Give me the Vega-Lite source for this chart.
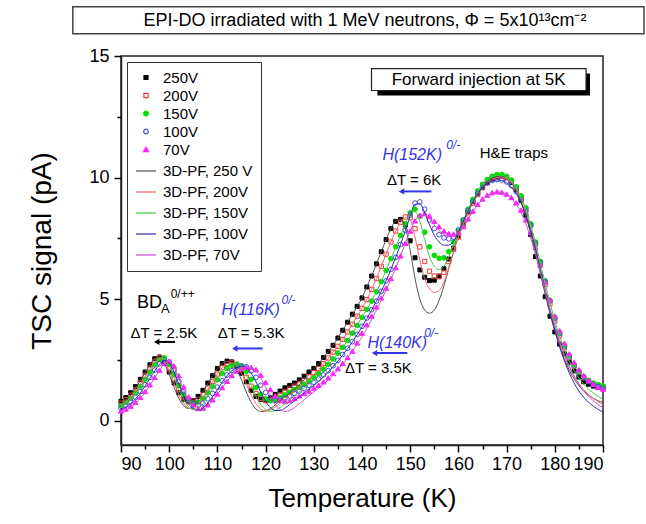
{
"$schema": "https://vega.github.io/schema/vega-lite/v6.json",
"width": 482, "height": 389, "autosize": "none",
"padding": {"left": 121, "top": 56, "right": 43, "bottom": 79},
"datasets": {
"box": [{"T": 80, "T2": 198.5, "v": 15.92, "v2": 17.03}],
"ttl": [{"T": 140.6, "v": 16.45, "t": "EPI-DO irradiated with 1 MeV neutrons, Φ = 5x10¹³cm⁻²"}],
"shadow": [{"T": 143.2, "T2": 187.3, "v": 13.38, "v2": 14.28}],
"fbox": [{"T": 141.97, "T2": 186.48, "v": 13.58, "v2": 14.48}],
"ftxt": [{"T": 164.2, "v": 14.03, "t": "Forward injection at 5K"}],
"bd": [{"T": 93.3, "v": 4.83, "t": "BD"}],
"bdsub": [{"T": 98.3, "v": 4.6, "t": "A"}],
"bdsup": [{"T": 100.3, "v": 5.22, "t": "0/++"}],
"dt": [{"T": 98.9, "v": 3.62, "t": "ΔT = 2.5K"}, {"T": 117.0, "v": 3.62, "t": "ΔT = 5.3K"}, {"T": 143.4, "v": 2.16, "t": "ΔT = 3.5K"}, {"T": 150.8, "v": 9.89, "t": "ΔT = 6K"}, {"T": 171.5, "v": 10.99, "t": "H&E traps"}],
"hname": [{"T": 110.85, "v": 4.55, "t": "H(116K)"}, {"T": 141.14, "v": 3.19, "t": "H(140K)"}, {"T": 144.24, "v": 10.91, "t": "H(152K)"}],
"hsup": [{"T": 123.3, "v": 4.96, "t": "0/-"}, {"T": 152.9, "v": 3.6, "t": "0/-"}, {"T": 157.5, "v": 11.32, "t": "0/-"}],
"arrk": [{"T": 101.2, "T2": 97.4, "v": 3.24}],
"arrkh": [{"T": 97.4, "v": 3.24}],
"arrb": [{"T": 119.4, "T2": 113.6, "v": 2.97}, {"T": 149.4, "T2": 142.6, "v": 2.78}, {"T": 154.4, "T2": 148.2, "v": 9.43}],
"arrbh": [{"T": 113.6, "v": 2.97}, {"T": 142.6, "v": 2.78}, {"T": 148.2, "v": 9.43}],
"meas": [
{"s":"250V","T":90,"v":0.8},{"s":"250V","T":91,"v":0.95},{"s":"250V","T":92,"v":1.15},{"s":"250V","T":93,"v":1.4},{"s":"250V","T":94,"v":1.7},{"s":"250V","T":95,"v":2},{"s":"250V","T":96,"v":2.3},{"s":"250V","T":97,"v":2.55},{"s":"250V","T":98,"v":2.62},{"s":"250V","T":99,"v":2.4},
{"s":"250V","T":100,"v":2},{"s":"250V","T":101,"v":1.55},{"s":"250V","T":102,"v":1.15},{"s":"250V","T":103,"v":0.88},{"s":"250V","T":104,"v":0.78},{"s":"250V","T":105,"v":0.82},{"s":"250V","T":106,"v":1},{"s":"250V","T":107,"v":1.25},{"s":"250V","T":108,"v":1.55},{"s":"250V","T":109,"v":1.85},
{"s":"250V","T":110,"v":2.15},{"s":"250V","T":111,"v":2.35},{"s":"250V","T":112,"v":2.45},{"s":"250V","T":113,"v":2.42},{"s":"250V","T":114,"v":2.25},{"s":"250V","T":115,"v":1.95},{"s":"250V","T":116,"v":1.6},{"s":"250V","T":117,"v":1.25},{"s":"250V","T":118,"v":1},{"s":"250V","T":119,"v":0.88},
{"s":"250V","T":120,"v":0.85},{"s":"250V","T":121,"v":0.95},{"s":"250V","T":122,"v":1.08},{"s":"250V","T":123,"v":1.22},{"s":"250V","T":124,"v":1.35},{"s":"250V","T":125,"v":1.45},{"s":"250V","T":126,"v":1.55},{"s":"250V","T":127,"v":1.68},{"s":"250V","T":128,"v":1.83},{"s":"250V","T":129,"v":2},
{"s":"250V","T":130,"v":2.15},{"s":"250V","T":131,"v":2.35},{"s":"250V","T":132,"v":2.6},{"s":"250V","T":133,"v":2.85},{"s":"250V","T":134,"v":3.1},{"s":"250V","T":135,"v":3.4},{"s":"250V","T":136,"v":3.72},{"s":"250V","T":137,"v":4.05},{"s":"250V","T":138,"v":4.38},{"s":"250V","T":139,"v":4.7},
{"s":"250V","T":140,"v":5.05},{"s":"250V","T":141,"v":5.5},{"s":"250V","T":142,"v":5.95},{"s":"250V","T":143,"v":6.45},{"s":"250V","T":144,"v":6.95},{"s":"250V","T":145,"v":7.45},{"s":"250V","T":146,"v":7.9},{"s":"250V","T":147,"v":8.2},{"s":"250V","T":148,"v":8.28},{"s":"250V","T":149,"v":8.05},
{"s":"250V","T":150,"v":7.4},{"s":"250V","T":151,"v":6.7},{"s":"250V","T":152,"v":6.2},{"s":"250V","T":153,"v":5.9},{"s":"250V","T":154,"v":5.76},{"s":"250V","T":155,"v":5.78},{"s":"250V","T":156,"v":5.95},{"s":"250V","T":157,"v":6.25},{"s":"250V","T":158,"v":6.65},{"s":"250V","T":159,"v":7.1},
{"s":"250V","T":160,"v":7.6},{"s":"250V","T":161,"v":8.1},{"s":"250V","T":162,"v":8.6},{"s":"250V","T":163,"v":9},{"s":"250V","T":164,"v":9.35},{"s":"250V","T":165,"v":9.6},{"s":"250V","T":166,"v":9.8},{"s":"250V","T":167,"v":9.95},{"s":"250V","T":168,"v":10.05},{"s":"250V","T":169,"v":10.08},
{"s":"250V","T":170,"v":10},{"s":"250V","T":171,"v":9.8},{"s":"250V","T":172,"v":9.5},{"s":"250V","T":173,"v":9.05},{"s":"250V","T":174,"v":8.45},{"s":"250V","T":175,"v":7.65},{"s":"250V","T":176,"v":6.75},{"s":"250V","T":177,"v":5.95},{"s":"250V","T":178,"v":5.1},{"s":"250V","T":179,"v":4.3},
{"s":"250V","T":180,"v":3.65},{"s":"250V","T":181,"v":3.15},{"s":"250V","T":182,"v":2.75},{"s":"250V","T":183,"v":2.4},{"s":"250V","T":184,"v":2.05},{"s":"250V","T":185,"v":1.8},{"s":"250V","T":186,"v":1.6},{"s":"250V","T":187,"v":1.5},{"s":"250V","T":188,"v":1.42},{"s":"250V","T":189,"v":1.37},{"s":"250V","T":190,"v":1.33},
{"s":"200V","T":90,"v":0.72},{"s":"200V","T":91,"v":0.86},{"s":"200V","T":92,"v":1.05},{"s":"200V","T":93,"v":1.28},{"s":"200V","T":94,"v":1.56},{"s":"200V","T":95,"v":1.86},{"s":"200V","T":96,"v":2.16},{"s":"200V","T":97,"v":2.42},{"s":"200V","T":98,"v":2.6},{"s":"200V","T":99,"v":2.5},
{"s":"200V","T":100,"v":2.15},{"s":"200V","T":101,"v":1.72},{"s":"200V","T":102,"v":1.3},{"s":"200V","T":103,"v":0.98},{"s":"200V","T":104,"v":0.8},{"s":"200V","T":105,"v":0.76},{"s":"200V","T":106,"v":0.88},{"s":"200V","T":107,"v":1.08},{"s":"200V","T":108,"v":1.34},{"s":"200V","T":109,"v":1.62},
{"s":"200V","T":110,"v":1.92},{"s":"200V","T":111,"v":2.18},{"s":"200V","T":112,"v":2.35},{"s":"200V","T":113,"v":2.4},{"s":"200V","T":114,"v":2.32},{"s":"200V","T":115,"v":2.1},{"s":"200V","T":116,"v":1.78},{"s":"200V","T":117,"v":1.42},{"s":"200V","T":118,"v":1.12},{"s":"200V","T":119,"v":0.92},
{"s":"200V","T":120,"v":0.82},{"s":"200V","T":121,"v":0.84},{"s":"200V","T":122,"v":0.94},{"s":"200V","T":123,"v":1.06},{"s":"200V","T":124,"v":1.18},{"s":"200V","T":125,"v":1.3},{"s":"200V","T":126,"v":1.42},{"s":"200V","T":127,"v":1.53},{"s":"200V","T":128,"v":1.66},{"s":"200V","T":129,"v":1.82},
{"s":"200V","T":130,"v":1.98},{"s":"200V","T":131,"v":2.14},{"s":"200V","T":132,"v":2.35},{"s":"200V","T":133,"v":2.58},{"s":"200V","T":134,"v":2.82},{"s":"200V","T":135,"v":3.06},{"s":"200V","T":136,"v":3.34},{"s":"200V","T":137,"v":3.65},{"s":"200V","T":138,"v":3.97},{"s":"200V","T":139,"v":4.3},
{"s":"200V","T":140,"v":4.62},{"s":"200V","T":141,"v":4.98},{"s":"200V","T":142,"v":5.4},{"s":"200V","T":143,"v":5.85},{"s":"200V","T":144,"v":6.35},{"s":"200V","T":145,"v":6.85},{"s":"200V","T":146,"v":7.35},{"s":"200V","T":147,"v":7.8},{"s":"200V","T":148,"v":8.15},{"s":"200V","T":149,"v":8.38},
{"s":"200V","T":150,"v":8.35},{"s":"200V","T":151,"v":7.9},{"s":"200V","T":152,"v":7.15},{"s":"200V","T":153,"v":6.55},{"s":"200V","T":154,"v":6.15},{"s":"200V","T":155,"v":5.95},{"s":"200V","T":156,"v":5.92},{"s":"200V","T":157,"v":6.1},{"s":"200V","T":158,"v":6.55},{"s":"200V","T":159,"v":7.05},
{"s":"200V","T":160,"v":7.55},{"s":"200V","T":161,"v":8.05},{"s":"200V","T":162,"v":8.55},{"s":"200V","T":163,"v":8.95},{"s":"200V","T":164,"v":9.3},{"s":"200V","T":165,"v":9.58},{"s":"200V","T":166,"v":9.78},{"s":"200V","T":167,"v":9.93},{"s":"200V","T":168,"v":10.02},{"s":"200V","T":169,"v":10.05},
{"s":"200V","T":170,"v":10},{"s":"200V","T":171,"v":9.85},{"s":"200V","T":172,"v":9.58},{"s":"200V","T":173,"v":9.2},{"s":"200V","T":174,"v":8.7},{"s":"200V","T":175,"v":8.05},{"s":"200V","T":176,"v":7.25},{"s":"200V","T":177,"v":6.4},{"s":"200V","T":178,"v":5.6},{"s":"200V","T":179,"v":4.8},
{"s":"200V","T":180,"v":4.1},{"s":"200V","T":181,"v":3.5},{"s":"200V","T":182,"v":3},{"s":"200V","T":183,"v":2.6},{"s":"200V","T":184,"v":2.25},{"s":"200V","T":185,"v":1.98},{"s":"200V","T":186,"v":1.76},{"s":"200V","T":187,"v":1.62},{"s":"200V","T":188,"v":1.52},{"s":"200V","T":189,"v":1.45},{"s":"200V","T":190,"v":1.4},
{"s":"150V","T":90,"v":0.62},{"s":"150V","T":91,"v":0.75},{"s":"150V","T":92,"v":0.92},{"s":"150V","T":93,"v":1.14},{"s":"150V","T":94,"v":1.4},{"s":"150V","T":95,"v":1.7},{"s":"150V","T":96,"v":2},{"s":"150V","T":97,"v":2.3},{"s":"150V","T":98,"v":2.52},{"s":"150V","T":99,"v":2.58},
{"s":"150V","T":100,"v":2.32},{"s":"150V","T":101,"v":1.9},{"s":"150V","T":102,"v":1.45},{"s":"150V","T":103,"v":1.08},{"s":"150V","T":104,"v":0.84},{"s":"150V","T":105,"v":0.72},{"s":"150V","T":106,"v":0.76},{"s":"150V","T":107,"v":0.92},{"s":"150V","T":108,"v":1.14},{"s":"150V","T":109,"v":1.4},
{"s":"150V","T":110,"v":1.68},{"s":"150V","T":111,"v":1.95},{"s":"150V","T":112,"v":2.15},{"s":"150V","T":113,"v":2.28},{"s":"150V","T":114,"v":2.32},{"s":"150V","T":115,"v":2.25},{"s":"150V","T":116,"v":2.02},{"s":"150V","T":117,"v":1.7},{"s":"150V","T":118,"v":1.36},{"s":"150V","T":119,"v":1.08},
{"s":"150V","T":120,"v":0.9},{"s":"150V","T":121,"v":0.82},{"s":"150V","T":122,"v":0.85},{"s":"150V","T":123,"v":0.95},{"s":"150V","T":124,"v":1.06},{"s":"150V","T":125,"v":1.17},{"s":"150V","T":126,"v":1.28},{"s":"150V","T":127,"v":1.38},{"s":"150V","T":128,"v":1.5},{"s":"150V","T":129,"v":1.63},
{"s":"150V","T":130,"v":1.78},{"s":"150V","T":131,"v":1.94},{"s":"150V","T":132,"v":2.12},{"s":"150V","T":133,"v":2.32},{"s":"150V","T":134,"v":2.54},{"s":"150V","T":135,"v":2.78},{"s":"150V","T":136,"v":3.02},{"s":"150V","T":137,"v":3.3},{"s":"150V","T":138,"v":3.6},{"s":"150V","T":139,"v":3.92},
{"s":"150V","T":140,"v":4.25},{"s":"150V","T":141,"v":4.58},{"s":"150V","T":142,"v":4.92},{"s":"150V","T":143,"v":5.3},{"s":"150V","T":144,"v":5.72},{"s":"150V","T":145,"v":6.18},{"s":"150V","T":146,"v":6.66},{"s":"150V","T":147,"v":7.15},{"s":"150V","T":148,"v":7.62},{"s":"150V","T":149,"v":8.1},
{"s":"150V","T":150,"v":8.55},{"s":"150V","T":151,"v":8.7},{"s":"150V","T":152,"v":8.4},{"s":"150V","T":153,"v":7.75},{"s":"150V","T":154,"v":7.15},{"s":"150V","T":155,"v":6.8},{"s":"150V","T":156,"v":6.68},{"s":"150V","T":157,"v":6.7},{"s":"150V","T":158,"v":6.95},{"s":"150V","T":159,"v":7.35},
{"s":"150V","T":160,"v":7.8},{"s":"150V","T":161,"v":8.25},{"s":"150V","T":162,"v":8.7},{"s":"150V","T":163,"v":9.1},{"s":"150V","T":164,"v":9.45},{"s":"150V","T":165,"v":9.72},{"s":"150V","T":166,"v":9.92},{"s":"150V","T":167,"v":10.05},{"s":"150V","T":168,"v":10.12},{"s":"150V","T":169,"v":10.12},
{"s":"150V","T":170,"v":10.05},{"s":"150V","T":171,"v":9.9},{"s":"150V","T":172,"v":9.62},{"s":"150V","T":173,"v":9.25},{"s":"150V","T":174,"v":8.75},{"s":"150V","T":175,"v":8.1},{"s":"150V","T":176,"v":7.35},{"s":"150V","T":177,"v":6.55},{"s":"150V","T":178,"v":5.75},{"s":"150V","T":179,"v":4.95},
{"s":"150V","T":180,"v":4.25},{"s":"150V","T":181,"v":3.62},{"s":"150V","T":182,"v":3.1},{"s":"150V","T":183,"v":2.68},{"s":"150V","T":184,"v":2.32},{"s":"150V","T":185,"v":2.04},{"s":"150V","T":186,"v":1.82},{"s":"150V","T":187,"v":1.66},{"s":"150V","T":188,"v":1.55},{"s":"150V","T":189,"v":1.48},{"s":"150V","T":190,"v":1.43},
{"s":"100V","T":90,"v":0.52},{"s":"100V","T":91,"v":0.63},{"s":"100V","T":92,"v":0.78},{"s":"100V","T":93,"v":0.96},{"s":"100V","T":94,"v":1.2},{"s":"100V","T":95,"v":1.48},{"s":"100V","T":96,"v":1.78},{"s":"100V","T":97,"v":2.08},{"s":"100V","T":98,"v":2.34},{"s":"100V","T":99,"v":2.5},
{"s":"100V","T":100,"v":2.42},{"s":"100V","T":101,"v":2.08},{"s":"100V","T":102,"v":1.62},{"s":"100V","T":103,"v":1.2},{"s":"100V","T":104,"v":0.9},{"s":"100V","T":105,"v":0.7},{"s":"100V","T":106,"v":0.64},{"s":"100V","T":107,"v":0.72},{"s":"100V","T":108,"v":0.9},{"s":"100V","T":109,"v":1.12},
{"s":"100V","T":110,"v":1.38},{"s":"100V","T":111,"v":1.64},{"s":"100V","T":112,"v":1.88},{"s":"100V","T":113,"v":2.06},{"s":"100V","T":114,"v":2.2},{"s":"100V","T":115,"v":2.25},{"s":"100V","T":116,"v":2.22},{"s":"100V","T":117,"v":2.05},{"s":"100V","T":118,"v":1.78},{"s":"100V","T":119,"v":1.46},
{"s":"100V","T":120,"v":1.16},{"s":"100V","T":121,"v":0.95},{"s":"100V","T":122,"v":0.84},{"s":"100V","T":123,"v":0.84},{"s":"100V","T":124,"v":0.92},{"s":"100V","T":125,"v":1.02},{"s":"100V","T":126,"v":1.12},{"s":"100V","T":127,"v":1.22},{"s":"100V","T":128,"v":1.33},{"s":"100V","T":129,"v":1.45},
{"s":"100V","T":130,"v":1.58},{"s":"100V","T":131,"v":1.72},{"s":"100V","T":132,"v":1.88},{"s":"100V","T":133,"v":2.06},{"s":"100V","T":134,"v":2.26},{"s":"100V","T":135,"v":2.48},{"s":"100V","T":136,"v":2.72},{"s":"100V","T":137,"v":2.98},{"s":"100V","T":138,"v":3.25},{"s":"100V","T":139,"v":3.55},
{"s":"100V","T":140,"v":3.88},{"s":"100V","T":141,"v":4.22},{"s":"100V","T":142,"v":4.56},{"s":"100V","T":143,"v":4.92},{"s":"100V","T":144,"v":5.32},{"s":"100V","T":145,"v":5.75},{"s":"100V","T":146,"v":6.22},{"s":"100V","T":147,"v":6.72},{"s":"100V","T":148,"v":7.25},{"s":"100V","T":149,"v":7.82},
{"s":"100V","T":150,"v":8.45},{"s":"100V","T":151,"v":8.95},{"s":"100V","T":152,"v":9},{"s":"100V","T":153,"v":8.7},{"s":"100V","T":154,"v":8.25},{"s":"100V","T":155,"v":7.9},{"s":"100V","T":156,"v":7.65},{"s":"100V","T":157,"v":7.52},{"s":"100V","T":158,"v":7.48},{"s":"100V","T":159,"v":7.55},
{"s":"100V","T":160,"v":7.85},{"s":"100V","T":161,"v":8.25},{"s":"100V","T":162,"v":8.65},{"s":"100V","T":163,"v":9.02},{"s":"100V","T":164,"v":9.35},{"s":"100V","T":165,"v":9.6},{"s":"100V","T":166,"v":9.78},{"s":"100V","T":167,"v":9.88},{"s":"100V","T":168,"v":9.92},{"s":"100V","T":169,"v":9.9},
{"s":"100V","T":170,"v":9.82},{"s":"100V","T":171,"v":9.66},{"s":"100V","T":172,"v":9.42},{"s":"100V","T":173,"v":9.08},{"s":"100V","T":174,"v":8.62},{"s":"100V","T":175,"v":8.02},{"s":"100V","T":176,"v":7.3},{"s":"100V","T":177,"v":6.52},{"s":"100V","T":178,"v":5.72},{"s":"100V","T":179,"v":4.92},
{"s":"100V","T":180,"v":4.2},{"s":"100V","T":181,"v":3.58},{"s":"100V","T":182,"v":3.05},{"s":"100V","T":183,"v":2.62},{"s":"100V","T":184,"v":2.26},{"s":"100V","T":185,"v":1.98},{"s":"100V","T":186,"v":1.76},{"s":"100V","T":187,"v":1.6},{"s":"100V","T":188,"v":1.48},{"s":"100V","T":189,"v":1.4},{"s":"100V","T":190,"v":1.34},
{"s":"70V","T":90,"v":0.4},{"s":"70V","T":91,"v":0.48},{"s":"70V","T":92,"v":0.6},{"s":"70V","T":93,"v":0.76},{"s":"70V","T":94,"v":0.96},{"s":"70V","T":95,"v":1.2},{"s":"70V","T":96,"v":1.48},{"s":"70V","T":97,"v":1.78},{"s":"70V","T":98,"v":2.08},{"s":"70V","T":99,"v":2.35},
{"s":"70V","T":100,"v":2.45},{"s":"70V","T":101,"v":2.25},{"s":"70V","T":102,"v":1.85},{"s":"70V","T":103,"v":1.4},{"s":"70V","T":104,"v":0.98},{"s":"70V","T":105,"v":0.66},{"s":"70V","T":106,"v":0.5},{"s":"70V","T":107,"v":0.52},{"s":"70V","T":108,"v":0.66},{"s":"70V","T":109,"v":0.86},
{"s":"70V","T":110,"v":1.1},{"s":"70V","T":111,"v":1.36},{"s":"70V","T":112,"v":1.62},{"s":"70V","T":113,"v":1.86},{"s":"70V","T":114,"v":2.04},{"s":"70V","T":115,"v":2.16},{"s":"70V","T":116,"v":2.2},{"s":"70V","T":117,"v":2.2},{"s":"70V","T":118,"v":2.1},{"s":"70V","T":119,"v":1.88},
{"s":"70V","T":120,"v":1.58},{"s":"70V","T":121,"v":1.28},{"s":"70V","T":122,"v":1.02},{"s":"70V","T":123,"v":0.86},{"s":"70V","T":124,"v":0.8},{"s":"70V","T":125,"v":0.84},{"s":"70V","T":126,"v":0.92},{"s":"70V","T":127,"v":1.02},{"s":"70V","T":128,"v":1.12},{"s":"70V","T":129,"v":1.22},
{"s":"70V","T":130,"v":1.34},{"s":"70V","T":131,"v":1.46},{"s":"70V","T":132,"v":1.6},{"s":"70V","T":133,"v":1.76},{"s":"70V","T":134,"v":1.94},{"s":"70V","T":135,"v":2.14},{"s":"70V","T":136,"v":2.36},{"s":"70V","T":137,"v":2.6},{"s":"70V","T":138,"v":2.86},{"s":"70V","T":139,"v":3.2},
{"s":"70V","T":140,"v":3.6},{"s":"70V","T":141,"v":3.95},{"s":"70V","T":142,"v":4.3},{"s":"70V","T":143,"v":4.68},{"s":"70V","T":144,"v":5.05},{"s":"70V","T":145,"v":5.45},{"s":"70V","T":146,"v":5.85},{"s":"70V","T":147,"v":6.3},{"s":"70V","T":148,"v":6.78},{"s":"70V","T":149,"v":7.3},
{"s":"70V","T":150,"v":7.8},{"s":"70V","T":151,"v":8.22},{"s":"70V","T":152,"v":8.45},{"s":"70V","T":153,"v":8.52},{"s":"70V","T":154,"v":8.42},{"s":"70V","T":155,"v":8.2},{"s":"70V","T":156,"v":7.98},{"s":"70V","T":157,"v":7.8},{"s":"70V","T":158,"v":7.7},{"s":"70V","T":159,"v":7.68},
{"s":"70V","T":160,"v":7.75},{"s":"70V","T":161,"v":7.98},{"s":"70V","T":162,"v":8.3},{"s":"70V","T":163,"v":8.62},{"s":"70V","T":164,"v":8.9},{"s":"70V","T":165,"v":9.12},{"s":"70V","T":166,"v":9.28},{"s":"70V","T":167,"v":9.38},{"s":"70V","T":168,"v":9.42},{"s":"70V","T":169,"v":9.4},
{"s":"70V","T":170,"v":9.32},{"s":"70V","T":171,"v":9.18},{"s":"70V","T":172,"v":8.96},{"s":"70V","T":173,"v":8.66},{"s":"70V","T":174,"v":8.26},{"s":"70V","T":175,"v":7.75},{"s":"70V","T":176,"v":7.12},{"s":"70V","T":177,"v":6.42},{"s":"70V","T":178,"v":5.7},{"s":"70V","T":179,"v":4.98},
{"s":"70V","T":180,"v":4.3},{"s":"70V","T":181,"v":3.7},{"s":"70V","T":182,"v":3.18},{"s":"70V","T":183,"v":2.75},{"s":"70V","T":184,"v":2.4},{"s":"70V","T":185,"v":2.1},{"s":"70V","T":186,"v":1.86},{"s":"70V","T":187,"v":1.66},{"s":"70V","T":188,"v":1.5},{"s":"70V","T":189,"v":1.38},{"s":"70V","T":190,"v":1.3}
],
"sim": [
{"s":"3D-PF, 250 V","T":90,"v":0.7},{"s":"3D-PF, 250 V","T":91,"v":0.85},{"s":"3D-PF, 250 V","T":92,"v":1.05},{"s":"3D-PF, 250 V","T":93,"v":1.32},{"s":"3D-PF, 250 V","T":94,"v":1.65},{"s":"3D-PF, 250 V","T":95,"v":1.98},{"s":"3D-PF, 250 V","T":96,"v":2.3},{"s":"3D-PF, 250 V","T":97,"v":2.55},{"s":"3D-PF, 250 V","T":98,"v":2.6},{"s":"3D-PF, 250 V","T":99,"v":2.35},
{"s":"3D-PF, 250 V","T":100,"v":1.9},{"s":"3D-PF, 250 V","T":101,"v":1.38},{"s":"3D-PF, 250 V","T":102,"v":0.92},{"s":"3D-PF, 250 V","T":103,"v":0.62},{"s":"3D-PF, 250 V","T":104,"v":0.5},{"s":"3D-PF, 250 V","T":105,"v":0.58},{"s":"3D-PF, 250 V","T":106,"v":0.85},{"s":"3D-PF, 250 V","T":107,"v":1.18},{"s":"3D-PF, 250 V","T":108,"v":1.52},{"s":"3D-PF, 250 V","T":109,"v":1.85},
{"s":"3D-PF, 250 V","T":110,"v":2.15},{"s":"3D-PF, 250 V","T":111,"v":2.36},{"s":"3D-PF, 250 V","T":112,"v":2.44},{"s":"3D-PF, 250 V","T":113,"v":2.36},{"s":"3D-PF, 250 V","T":114,"v":2.1},{"s":"3D-PF, 250 V","T":115,"v":1.68},{"s":"3D-PF, 250 V","T":116,"v":1.18},{"s":"3D-PF, 250 V","T":117,"v":0.76},{"s":"3D-PF, 250 V","T":118,"v":0.48},{"s":"3D-PF, 250 V","T":119,"v":0.38},
{"s":"3D-PF, 250 V","T":120,"v":0.4},{"s":"3D-PF, 250 V","T":121,"v":0.5},{"s":"3D-PF, 250 V","T":122,"v":0.65},{"s":"3D-PF, 250 V","T":123,"v":0.82},{"s":"3D-PF, 250 V","T":124,"v":0.98},{"s":"3D-PF, 250 V","T":125,"v":1.14},{"s":"3D-PF, 250 V","T":126,"v":1.3},{"s":"3D-PF, 250 V","T":127,"v":1.48},{"s":"3D-PF, 250 V","T":128,"v":1.68},{"s":"3D-PF, 250 V","T":129,"v":1.9},
{"s":"3D-PF, 250 V","T":130,"v":2.12},{"s":"3D-PF, 250 V","T":131,"v":2.35},{"s":"3D-PF, 250 V","T":132,"v":2.6},{"s":"3D-PF, 250 V","T":133,"v":2.85},{"s":"3D-PF, 250 V","T":134,"v":3.1},{"s":"3D-PF, 250 V","T":135,"v":3.4},{"s":"3D-PF, 250 V","T":136,"v":3.72},{"s":"3D-PF, 250 V","T":137,"v":4.05},{"s":"3D-PF, 250 V","T":138,"v":4.38},{"s":"3D-PF, 250 V","T":139,"v":4.7},
{"s":"3D-PF, 250 V","T":140,"v":5.05},{"s":"3D-PF, 250 V","T":141,"v":5.5},{"s":"3D-PF, 250 V","T":142,"v":5.95},{"s":"3D-PF, 250 V","T":143,"v":6.45},{"s":"3D-PF, 250 V","T":144,"v":6.95},{"s":"3D-PF, 250 V","T":145,"v":7.45},{"s":"3D-PF, 250 V","T":146,"v":7.9},{"s":"3D-PF, 250 V","T":147,"v":8.22},{"s":"3D-PF, 250 V","T":148,"v":8.3},{"s":"3D-PF, 250 V","T":149,"v":7.95},
{"s":"3D-PF, 250 V","T":150,"v":7},{"s":"3D-PF, 250 V","T":151,"v":5.85},{"s":"3D-PF, 250 V","T":152,"v":5},{"s":"3D-PF, 250 V","T":153,"v":4.55},{"s":"3D-PF, 250 V","T":154,"v":4.42},{"s":"3D-PF, 250 V","T":155,"v":4.55},{"s":"3D-PF, 250 V","T":156,"v":4.95},{"s":"3D-PF, 250 V","T":157,"v":5.55},{"s":"3D-PF, 250 V","T":158,"v":6.25},{"s":"3D-PF, 250 V","T":159,"v":6.95},
{"s":"3D-PF, 250 V","T":160,"v":7.6},{"s":"3D-PF, 250 V","T":161,"v":8.15},{"s":"3D-PF, 250 V","T":162,"v":8.62},{"s":"3D-PF, 250 V","T":163,"v":9.02},{"s":"3D-PF, 250 V","T":164,"v":9.36},{"s":"3D-PF, 250 V","T":165,"v":9.62},{"s":"3D-PF, 250 V","T":166,"v":9.82},{"s":"3D-PF, 250 V","T":167,"v":9.96},{"s":"3D-PF, 250 V","T":168,"v":10.04},{"s":"3D-PF, 250 V","T":169,"v":10.05},
{"s":"3D-PF, 250 V","T":170,"v":9.96},{"s":"3D-PF, 250 V","T":171,"v":9.76},{"s":"3D-PF, 250 V","T":172,"v":9.45},{"s":"3D-PF, 250 V","T":173,"v":9},{"s":"3D-PF, 250 V","T":174,"v":8.42},{"s":"3D-PF, 250 V","T":175,"v":7.7},{"s":"3D-PF, 250 V","T":176,"v":6.9},{"s":"3D-PF, 250 V","T":177,"v":6.05},{"s":"3D-PF, 250 V","T":178,"v":5.2},{"s":"3D-PF, 250 V","T":179,"v":4.4},
{"s":"3D-PF, 250 V","T":180,"v":3.68},{"s":"3D-PF, 250 V","T":181,"v":3.05},{"s":"3D-PF, 250 V","T":182,"v":2.52},{"s":"3D-PF, 250 V","T":183,"v":2.08},{"s":"3D-PF, 250 V","T":184,"v":1.72},{"s":"3D-PF, 250 V","T":185,"v":1.44},{"s":"3D-PF, 250 V","T":186,"v":1.22},{"s":"3D-PF, 250 V","T":187,"v":1.05},{"s":"3D-PF, 250 V","T":188,"v":0.92},{"s":"3D-PF, 250 V","T":189,"v":0.82},{"s":"3D-PF, 250 V","T":190,"v":0.74},
{"s":"3D-PF, 200V","T":90,"v":0.62},{"s":"3D-PF, 200V","T":91,"v":0.76},{"s":"3D-PF, 200V","T":92,"v":0.95},{"s":"3D-PF, 200V","T":93,"v":1.2},{"s":"3D-PF, 200V","T":94,"v":1.5},{"s":"3D-PF, 200V","T":95,"v":1.82},{"s":"3D-PF, 200V","T":96,"v":2.14},{"s":"3D-PF, 200V","T":97,"v":2.42},{"s":"3D-PF, 200V","T":98,"v":2.58},{"s":"3D-PF, 200V","T":99,"v":2.45},
{"s":"3D-PF, 200V","T":100,"v":2.05},{"s":"3D-PF, 200V","T":101,"v":1.55},{"s":"3D-PF, 200V","T":102,"v":1.08},{"s":"3D-PF, 200V","T":103,"v":0.72},{"s":"3D-PF, 200V","T":104,"v":0.52},{"s":"3D-PF, 200V","T":105,"v":0.5},{"s":"3D-PF, 200V","T":106,"v":0.66},{"s":"3D-PF, 200V","T":107,"v":0.95},{"s":"3D-PF, 200V","T":108,"v":1.28},{"s":"3D-PF, 200V","T":109,"v":1.6},
{"s":"3D-PF, 200V","T":110,"v":1.92},{"s":"3D-PF, 200V","T":111,"v":2.18},{"s":"3D-PF, 200V","T":112,"v":2.35},{"s":"3D-PF, 200V","T":113,"v":2.39},{"s":"3D-PF, 200V","T":114,"v":2.26},{"s":"3D-PF, 200V","T":115,"v":1.95},{"s":"3D-PF, 200V","T":116,"v":1.52},{"s":"3D-PF, 200V","T":117,"v":1.06},{"s":"3D-PF, 200V","T":118,"v":0.7},{"s":"3D-PF, 200V","T":119,"v":0.48},
{"s":"3D-PF, 200V","T":120,"v":0.4},{"s":"3D-PF, 200V","T":121,"v":0.44},{"s":"3D-PF, 200V","T":122,"v":0.56},{"s":"3D-PF, 200V","T":123,"v":0.72},{"s":"3D-PF, 200V","T":124,"v":0.88},{"s":"3D-PF, 200V","T":125,"v":1.04},{"s":"3D-PF, 200V","T":126,"v":1.2},{"s":"3D-PF, 200V","T":127,"v":1.36},{"s":"3D-PF, 200V","T":128,"v":1.52},{"s":"3D-PF, 200V","T":129,"v":1.7},
{"s":"3D-PF, 200V","T":130,"v":1.9},{"s":"3D-PF, 200V","T":131,"v":2.1},{"s":"3D-PF, 200V","T":132,"v":2.33},{"s":"3D-PF, 200V","T":133,"v":2.57},{"s":"3D-PF, 200V","T":134,"v":2.82},{"s":"3D-PF, 200V","T":135,"v":3.06},{"s":"3D-PF, 200V","T":136,"v":3.34},{"s":"3D-PF, 200V","T":137,"v":3.65},{"s":"3D-PF, 200V","T":138,"v":3.97},{"s":"3D-PF, 200V","T":139,"v":4.3},
{"s":"3D-PF, 200V","T":140,"v":4.62},{"s":"3D-PF, 200V","T":141,"v":4.98},{"s":"3D-PF, 200V","T":142,"v":5.4},{"s":"3D-PF, 200V","T":143,"v":5.85},{"s":"3D-PF, 200V","T":144,"v":6.35},{"s":"3D-PF, 200V","T":145,"v":6.85},{"s":"3D-PF, 200V","T":146,"v":7.35},{"s":"3D-PF, 200V","T":147,"v":7.8},{"s":"3D-PF, 200V","T":148,"v":8.15},{"s":"3D-PF, 200V","T":149,"v":8.36},
{"s":"3D-PF, 200V","T":150,"v":8.25},{"s":"3D-PF, 200V","T":151,"v":7.55},{"s":"3D-PF, 200V","T":152,"v":6.6},{"s":"3D-PF, 200V","T":153,"v":5.85},{"s":"3D-PF, 200V","T":154,"v":5.42},{"s":"3D-PF, 200V","T":155,"v":5.28},{"s":"3D-PF, 200V","T":156,"v":5.35},{"s":"3D-PF, 200V","T":157,"v":5.7},{"s":"3D-PF, 200V","T":158,"v":6.3},{"s":"3D-PF, 200V","T":159,"v":6.95},
{"s":"3D-PF, 200V","T":160,"v":7.55},{"s":"3D-PF, 200V","T":161,"v":8.08},{"s":"3D-PF, 200V","T":162,"v":8.56},{"s":"3D-PF, 200V","T":163,"v":8.96},{"s":"3D-PF, 200V","T":164,"v":9.3},{"s":"3D-PF, 200V","T":165,"v":9.57},{"s":"3D-PF, 200V","T":166,"v":9.77},{"s":"3D-PF, 200V","T":167,"v":9.92},{"s":"3D-PF, 200V","T":168,"v":10},{"s":"3D-PF, 200V","T":169,"v":10.02},
{"s":"3D-PF, 200V","T":170,"v":9.96},{"s":"3D-PF, 200V","T":171,"v":9.8},{"s":"3D-PF, 200V","T":172,"v":9.52},{"s":"3D-PF, 200V","T":173,"v":9.12},{"s":"3D-PF, 200V","T":174,"v":8.6},{"s":"3D-PF, 200V","T":175,"v":7.92},{"s":"3D-PF, 200V","T":176,"v":7.12},{"s":"3D-PF, 200V","T":177,"v":6.25},{"s":"3D-PF, 200V","T":178,"v":5.4},{"s":"3D-PF, 200V","T":179,"v":4.58},
{"s":"3D-PF, 200V","T":180,"v":3.85},{"s":"3D-PF, 200V","T":181,"v":3.2},{"s":"3D-PF, 200V","T":182,"v":2.65},{"s":"3D-PF, 200V","T":183,"v":2.2},{"s":"3D-PF, 200V","T":184,"v":1.82},{"s":"3D-PF, 200V","T":185,"v":1.52},{"s":"3D-PF, 200V","T":186,"v":1.28},{"s":"3D-PF, 200V","T":187,"v":1.08},{"s":"3D-PF, 200V","T":188,"v":0.92},{"s":"3D-PF, 200V","T":189,"v":0.78},{"s":"3D-PF, 200V","T":190,"v":0.66},
{"s":"3D-PF, 150V","T":90,"v":0.55},{"s":"3D-PF, 150V","T":91,"v":0.68},{"s":"3D-PF, 150V","T":92,"v":0.85},{"s":"3D-PF, 150V","T":93,"v":1.08},{"s":"3D-PF, 150V","T":94,"v":1.36},{"s":"3D-PF, 150V","T":95,"v":1.68},{"s":"3D-PF, 150V","T":96,"v":2},{"s":"3D-PF, 150V","T":97,"v":2.3},{"s":"3D-PF, 150V","T":98,"v":2.52},{"s":"3D-PF, 150V","T":99,"v":2.56},
{"s":"3D-PF, 150V","T":100,"v":2.25},{"s":"3D-PF, 150V","T":101,"v":1.78},{"s":"3D-PF, 150V","T":102,"v":1.28},{"s":"3D-PF, 150V","T":103,"v":0.86},{"s":"3D-PF, 150V","T":104,"v":0.58},{"s":"3D-PF, 150V","T":105,"v":0.45},{"s":"3D-PF, 150V","T":106,"v":0.5},{"s":"3D-PF, 150V","T":107,"v":0.7},{"s":"3D-PF, 150V","T":108,"v":1},{"s":"3D-PF, 150V","T":109,"v":1.32},
{"s":"3D-PF, 150V","T":110,"v":1.65},{"s":"3D-PF, 150V","T":111,"v":1.95},{"s":"3D-PF, 150V","T":112,"v":2.15},{"s":"3D-PF, 150V","T":113,"v":2.28},{"s":"3D-PF, 150V","T":114,"v":2.3},{"s":"3D-PF, 150V","T":115,"v":2.18},{"s":"3D-PF, 150V","T":116,"v":1.88},{"s":"3D-PF, 150V","T":117,"v":1.45},{"s":"3D-PF, 150V","T":118,"v":1},{"s":"3D-PF, 150V","T":119,"v":0.66},
{"s":"3D-PF, 150V","T":120,"v":0.46},{"s":"3D-PF, 150V","T":121,"v":0.38},{"s":"3D-PF, 150V","T":122,"v":0.42},{"s":"3D-PF, 150V","T":123,"v":0.54},{"s":"3D-PF, 150V","T":124,"v":0.7},{"s":"3D-PF, 150V","T":125,"v":0.86},{"s":"3D-PF, 150V","T":126,"v":1.02},{"s":"3D-PF, 150V","T":127,"v":1.18},{"s":"3D-PF, 150V","T":128,"v":1.34},{"s":"3D-PF, 150V","T":129,"v":1.5},
{"s":"3D-PF, 150V","T":130,"v":1.68},{"s":"3D-PF, 150V","T":131,"v":1.86},{"s":"3D-PF, 150V","T":132,"v":2.06},{"s":"3D-PF, 150V","T":133,"v":2.28},{"s":"3D-PF, 150V","T":134,"v":2.52},{"s":"3D-PF, 150V","T":135,"v":2.76},{"s":"3D-PF, 150V","T":136,"v":3.02},{"s":"3D-PF, 150V","T":137,"v":3.3},{"s":"3D-PF, 150V","T":138,"v":3.6},{"s":"3D-PF, 150V","T":139,"v":3.92},
{"s":"3D-PF, 150V","T":140,"v":4.25},{"s":"3D-PF, 150V","T":141,"v":4.58},{"s":"3D-PF, 150V","T":142,"v":4.92},{"s":"3D-PF, 150V","T":143,"v":5.3},{"s":"3D-PF, 150V","T":144,"v":5.72},{"s":"3D-PF, 150V","T":145,"v":6.18},{"s":"3D-PF, 150V","T":146,"v":6.66},{"s":"3D-PF, 150V","T":147,"v":7.15},{"s":"3D-PF, 150V","T":148,"v":7.62},{"s":"3D-PF, 150V","T":149,"v":8.1},
{"s":"3D-PF, 150V","T":150,"v":8.5},{"s":"3D-PF, 150V","T":151,"v":8.6},{"s":"3D-PF, 150V","T":152,"v":8.2},{"s":"3D-PF, 150V","T":153,"v":7.45},{"s":"3D-PF, 150V","T":154,"v":6.75},{"s":"3D-PF, 150V","T":155,"v":6.35},{"s":"3D-PF, 150V","T":156,"v":6.22},{"s":"3D-PF, 150V","T":157,"v":6.35},{"s":"3D-PF, 150V","T":158,"v":6.75},{"s":"3D-PF, 150V","T":159,"v":7.25},
{"s":"3D-PF, 150V","T":160,"v":7.75},{"s":"3D-PF, 150V","T":161,"v":8.22},{"s":"3D-PF, 150V","T":162,"v":8.68},{"s":"3D-PF, 150V","T":163,"v":9.08},{"s":"3D-PF, 150V","T":164,"v":9.42},{"s":"3D-PF, 150V","T":165,"v":9.7},{"s":"3D-PF, 150V","T":166,"v":9.9},{"s":"3D-PF, 150V","T":167,"v":10.03},{"s":"3D-PF, 150V","T":168,"v":10.1},{"s":"3D-PF, 150V","T":169,"v":10.1},
{"s":"3D-PF, 150V","T":170,"v":10.02},{"s":"3D-PF, 150V","T":171,"v":9.86},{"s":"3D-PF, 150V","T":172,"v":9.58},{"s":"3D-PF, 150V","T":173,"v":9.2},{"s":"3D-PF, 150V","T":174,"v":8.7},{"s":"3D-PF, 150V","T":175,"v":8.05},{"s":"3D-PF, 150V","T":176,"v":7.3},{"s":"3D-PF, 150V","T":177,"v":6.48},{"s":"3D-PF, 150V","T":178,"v":5.65},{"s":"3D-PF, 150V","T":179,"v":4.85},
{"s":"3D-PF, 150V","T":180,"v":4.12},{"s":"3D-PF, 150V","T":181,"v":3.48},{"s":"3D-PF, 150V","T":182,"v":2.92},{"s":"3D-PF, 150V","T":183,"v":2.45},{"s":"3D-PF, 150V","T":184,"v":2.06},{"s":"3D-PF, 150V","T":185,"v":1.75},{"s":"3D-PF, 150V","T":186,"v":1.5},{"s":"3D-PF, 150V","T":187,"v":1.3},{"s":"3D-PF, 150V","T":188,"v":1.14},{"s":"3D-PF, 150V","T":189,"v":1},{"s":"3D-PF, 150V","T":190,"v":0.88},
{"s":"3D-PF, 100V","T":90,"v":0.45},{"s":"3D-PF, 100V","T":91,"v":0.56},{"s":"3D-PF, 100V","T":92,"v":0.71},{"s":"3D-PF, 100V","T":93,"v":0.9},{"s":"3D-PF, 100V","T":94,"v":1.14},{"s":"3D-PF, 100V","T":95,"v":1.42},{"s":"3D-PF, 100V","T":96,"v":1.74},{"s":"3D-PF, 100V","T":97,"v":2.05},{"s":"3D-PF, 100V","T":98,"v":2.32},{"s":"3D-PF, 100V","T":99,"v":2.48},
{"s":"3D-PF, 100V","T":100,"v":2.38},{"s":"3D-PF, 100V","T":101,"v":2},{"s":"3D-PF, 100V","T":102,"v":1.5},{"s":"3D-PF, 100V","T":103,"v":1.04},{"s":"3D-PF, 100V","T":104,"v":0.7},{"s":"3D-PF, 100V","T":105,"v":0.5},{"s":"3D-PF, 100V","T":106,"v":0.44},{"s":"3D-PF, 100V","T":107,"v":0.52},{"s":"3D-PF, 100V","T":108,"v":0.72},{"s":"3D-PF, 100V","T":109,"v":0.98},
{"s":"3D-PF, 100V","T":110,"v":1.28},{"s":"3D-PF, 100V","T":111,"v":1.58},{"s":"3D-PF, 100V","T":112,"v":1.85},{"s":"3D-PF, 100V","T":113,"v":2.05},{"s":"3D-PF, 100V","T":114,"v":2.19},{"s":"3D-PF, 100V","T":115,"v":2.24},{"s":"3D-PF, 100V","T":116,"v":2.18},{"s":"3D-PF, 100V","T":117,"v":1.96},{"s":"3D-PF, 100V","T":118,"v":1.6},{"s":"3D-PF, 100V","T":119,"v":1.18},
{"s":"3D-PF, 100V","T":120,"v":0.8},{"s":"3D-PF, 100V","T":121,"v":0.54},{"s":"3D-PF, 100V","T":122,"v":0.42},{"s":"3D-PF, 100V","T":123,"v":0.42},{"s":"3D-PF, 100V","T":124,"v":0.52},{"s":"3D-PF, 100V","T":125,"v":0.66},{"s":"3D-PF, 100V","T":126,"v":0.82},{"s":"3D-PF, 100V","T":127,"v":0.98},{"s":"3D-PF, 100V","T":128,"v":1.14},{"s":"3D-PF, 100V","T":129,"v":1.3},
{"s":"3D-PF, 100V","T":130,"v":1.46},{"s":"3D-PF, 100V","T":131,"v":1.62},{"s":"3D-PF, 100V","T":132,"v":1.8},{"s":"3D-PF, 100V","T":133,"v":2},{"s":"3D-PF, 100V","T":134,"v":2.22},{"s":"3D-PF, 100V","T":135,"v":2.45},{"s":"3D-PF, 100V","T":136,"v":2.7},{"s":"3D-PF, 100V","T":137,"v":2.96},{"s":"3D-PF, 100V","T":138,"v":3.24},{"s":"3D-PF, 100V","T":139,"v":3.54},
{"s":"3D-PF, 100V","T":140,"v":3.86},{"s":"3D-PF, 100V","T":141,"v":4.2},{"s":"3D-PF, 100V","T":142,"v":4.55},{"s":"3D-PF, 100V","T":143,"v":4.92},{"s":"3D-PF, 100V","T":144,"v":5.32},{"s":"3D-PF, 100V","T":145,"v":5.75},{"s":"3D-PF, 100V","T":146,"v":6.22},{"s":"3D-PF, 100V","T":147,"v":6.72},{"s":"3D-PF, 100V","T":148,"v":7.25},{"s":"3D-PF, 100V","T":149,"v":7.82},
{"s":"3D-PF, 100V","T":150,"v":8.42},{"s":"3D-PF, 100V","T":151,"v":8.9},{"s":"3D-PF, 100V","T":152,"v":8.92},{"s":"3D-PF, 100V","T":153,"v":8.55},{"s":"3D-PF, 100V","T":154,"v":8.05},{"s":"3D-PF, 100V","T":155,"v":7.62},{"s":"3D-PF, 100V","T":156,"v":7.35},{"s":"3D-PF, 100V","T":157,"v":7.22},{"s":"3D-PF, 100V","T":158,"v":7.22},{"s":"3D-PF, 100V","T":159,"v":7.38},
{"s":"3D-PF, 100V","T":160,"v":7.75},{"s":"3D-PF, 100V","T":161,"v":8.2},{"s":"3D-PF, 100V","T":162,"v":8.62},{"s":"3D-PF, 100V","T":163,"v":9},{"s":"3D-PF, 100V","T":164,"v":9.32},{"s":"3D-PF, 100V","T":165,"v":9.58},{"s":"3D-PF, 100V","T":166,"v":9.76},{"s":"3D-PF, 100V","T":167,"v":9.86},{"s":"3D-PF, 100V","T":168,"v":9.9},{"s":"3D-PF, 100V","T":169,"v":9.88},
{"s":"3D-PF, 100V","T":170,"v":9.78},{"s":"3D-PF, 100V","T":171,"v":9.6},{"s":"3D-PF, 100V","T":172,"v":9.34},{"s":"3D-PF, 100V","T":173,"v":8.96},{"s":"3D-PF, 100V","T":174,"v":8.46},{"s":"3D-PF, 100V","T":175,"v":7.82},{"s":"3D-PF, 100V","T":176,"v":7.06},{"s":"3D-PF, 100V","T":177,"v":6.22},{"s":"3D-PF, 100V","T":178,"v":5.36},{"s":"3D-PF, 100V","T":179,"v":4.52},
{"s":"3D-PF, 100V","T":180,"v":3.75},{"s":"3D-PF, 100V","T":181,"v":3.06},{"s":"3D-PF, 100V","T":182,"v":2.46},{"s":"3D-PF, 100V","T":183,"v":1.96},{"s":"3D-PF, 100V","T":184,"v":1.55},{"s":"3D-PF, 100V","T":185,"v":1.22},{"s":"3D-PF, 100V","T":186,"v":0.96},{"s":"3D-PF, 100V","T":187,"v":0.76},{"s":"3D-PF, 100V","T":188,"v":0.6},{"s":"3D-PF, 100V","T":189,"v":0.46},{"s":"3D-PF, 100V","T":190,"v":0.35},
{"s":"3D-PF, 70V","T":90,"v":0.35},{"s":"3D-PF, 70V","T":91,"v":0.43},{"s":"3D-PF, 70V","T":92,"v":0.55},{"s":"3D-PF, 70V","T":93,"v":0.71},{"s":"3D-PF, 70V","T":94,"v":0.92},{"s":"3D-PF, 70V","T":95,"v":1.16},{"s":"3D-PF, 70V","T":96,"v":1.45},{"s":"3D-PF, 70V","T":97,"v":1.76},{"s":"3D-PF, 70V","T":98,"v":2.07},{"s":"3D-PF, 70V","T":99,"v":2.34},
{"s":"3D-PF, 70V","T":100,"v":2.44},{"s":"3D-PF, 70V","T":101,"v":2.2},{"s":"3D-PF, 70V","T":102,"v":1.75},{"s":"3D-PF, 70V","T":103,"v":1.26},{"s":"3D-PF, 70V","T":104,"v":0.84},{"s":"3D-PF, 70V","T":105,"v":0.55},{"s":"3D-PF, 70V","T":106,"v":0.42},{"s":"3D-PF, 70V","T":107,"v":0.44},{"s":"3D-PF, 70V","T":108,"v":0.6},{"s":"3D-PF, 70V","T":109,"v":0.82},
{"s":"3D-PF, 70V","T":110,"v":1.08},{"s":"3D-PF, 70V","T":111,"v":1.35},{"s":"3D-PF, 70V","T":112,"v":1.62},{"s":"3D-PF, 70V","T":113,"v":1.86},{"s":"3D-PF, 70V","T":114,"v":2.04},{"s":"3D-PF, 70V","T":115,"v":2.16},{"s":"3D-PF, 70V","T":116,"v":2.2},{"s":"3D-PF, 70V","T":117,"v":2.18},{"s":"3D-PF, 70V","T":118,"v":2.04},{"s":"3D-PF, 70V","T":119,"v":1.76},
{"s":"3D-PF, 70V","T":120,"v":1.38},{"s":"3D-PF, 70V","T":121,"v":0.98},{"s":"3D-PF, 70V","T":122,"v":0.66},{"s":"3D-PF, 70V","T":123,"v":0.46},{"s":"3D-PF, 70V","T":124,"v":0.38},{"s":"3D-PF, 70V","T":125,"v":0.42},{"s":"3D-PF, 70V","T":126,"v":0.54},{"s":"3D-PF, 70V","T":127,"v":0.7},{"s":"3D-PF, 70V","T":128,"v":0.86},{"s":"3D-PF, 70V","T":129,"v":1.02},
{"s":"3D-PF, 70V","T":130,"v":1.18},{"s":"3D-PF, 70V","T":131,"v":1.34},{"s":"3D-PF, 70V","T":132,"v":1.5},{"s":"3D-PF, 70V","T":133,"v":1.68},{"s":"3D-PF, 70V","T":134,"v":1.88},{"s":"3D-PF, 70V","T":135,"v":2.1},{"s":"3D-PF, 70V","T":136,"v":2.33},{"s":"3D-PF, 70V","T":137,"v":2.58},{"s":"3D-PF, 70V","T":138,"v":2.85},{"s":"3D-PF, 70V","T":139,"v":3.14},
{"s":"3D-PF, 70V","T":140,"v":3.45},{"s":"3D-PF, 70V","T":141,"v":3.8},{"s":"3D-PF, 70V","T":142,"v":4.16},{"s":"3D-PF, 70V","T":143,"v":4.55},{"s":"3D-PF, 70V","T":144,"v":4.95},{"s":"3D-PF, 70V","T":145,"v":5.38},{"s":"3D-PF, 70V","T":146,"v":5.82},{"s":"3D-PF, 70V","T":147,"v":6.28},{"s":"3D-PF, 70V","T":148,"v":6.78},{"s":"3D-PF, 70V","T":149,"v":7.3},
{"s":"3D-PF, 70V","T":150,"v":7.8},{"s":"3D-PF, 70V","T":151,"v":8.22},{"s":"3D-PF, 70V","T":152,"v":8.42},{"s":"3D-PF, 70V","T":153,"v":8.45},{"s":"3D-PF, 70V","T":154,"v":8.3},{"s":"3D-PF, 70V","T":155,"v":8.05},{"s":"3D-PF, 70V","T":156,"v":7.82},{"s":"3D-PF, 70V","T":157,"v":7.66},{"s":"3D-PF, 70V","T":158,"v":7.58},{"s":"3D-PF, 70V","T":159,"v":7.6},
{"s":"3D-PF, 70V","T":160,"v":7.72},{"s":"3D-PF, 70V","T":161,"v":7.96},{"s":"3D-PF, 70V","T":162,"v":8.28},{"s":"3D-PF, 70V","T":163,"v":8.6},{"s":"3D-PF, 70V","T":164,"v":8.88},{"s":"3D-PF, 70V","T":165,"v":9.1},{"s":"3D-PF, 70V","T":166,"v":9.26},{"s":"3D-PF, 70V","T":167,"v":9.36},{"s":"3D-PF, 70V","T":168,"v":9.4},{"s":"3D-PF, 70V","T":169,"v":9.38},
{"s":"3D-PF, 70V","T":170,"v":9.3},{"s":"3D-PF, 70V","T":171,"v":9.14},{"s":"3D-PF, 70V","T":172,"v":8.9},{"s":"3D-PF, 70V","T":173,"v":8.56},{"s":"3D-PF, 70V","T":174,"v":8.1},{"s":"3D-PF, 70V","T":175,"v":7.52},{"s":"3D-PF, 70V","T":176,"v":6.84},{"s":"3D-PF, 70V","T":177,"v":6.1},{"s":"3D-PF, 70V","T":178,"v":5.34},{"s":"3D-PF, 70V","T":179,"v":4.6},
{"s":"3D-PF, 70V","T":180,"v":3.9},{"s":"3D-PF, 70V","T":181,"v":3.28},{"s":"3D-PF, 70V","T":182,"v":2.72},{"s":"3D-PF, 70V","T":183,"v":2.24},{"s":"3D-PF, 70V","T":184,"v":1.84},{"s":"3D-PF, 70V","T":185,"v":1.5},{"s":"3D-PF, 70V","T":186,"v":1.22},{"s":"3D-PF, 70V","T":187,"v":1},{"s":"3D-PF, 70V","T":188,"v":0.82},{"s":"3D-PF, 70V","T":189,"v":0.66},{"s":"3D-PF, 70V","T":190,"v":0.52}
]
},
"encoding": {
 "x": {"field": "T", "type": "quantitative", "title": "Temperature (K)", "scale": {"domain": [90, 190], "nice": false},
  "axis": {"values": [90,95,100,105,110,115,120,125,130,135,140,145,150,155,160,165,170,175,180,185,190], "labelExpr": "datum.value % 10 === 0 ? datum.label : ''", "tickSize": {"condition": {"test": "datum.value % 10 === 0", "value": 7}, "value": 4}, "labelPadding": 3, "titlePadding": 12, "titleFontSize": 26}},
 "y": {"field": "v", "type": "quantitative", "title": "TSC signal (pA)", "scale": {"domain": [-1, 15], "nice": false, "zero": false},
  "axis": {"values": [0, 2.5, 5, 7.5, 10, 12.5, 15], "labelExpr": "datum.value % 5 === 0 ? datum.label : ''", "tickSize": {"condition": {"test": "datum.value % 5 === 0", "value": 7}, "value": 4}, "labelPadding": 5, "titlePadding": 32, "titleFontSize": 28}}
},
"layer": [
{"data": {"name": "box"}, "mark": {"type": "rect", "fill": "white", "stroke": "#444", "strokeWidth": 1.5},
 "encoding": {"x2": {"field": "T2"}, "y2": {"field": "v2"}}},
{"data": {"name": "ttl"}, "mark": {"type": "text", "fontSize": 18, "align": "center", "baseline": "middle", "color": "#000"},
 "encoding": {"text": {"field": "t"}}},
{"data": {"name": "meas"}, "mark": {"type": "point", "strokeWidth": 1, "opacity": 1},
 "encoding": {
  "stroke": {"field": "s", "type": "nominal", "title": null, "scale": {"domain": ["250V","200V","150V","100V","70V","3D-PF, 250 V","3D-PF, 200V","3D-PF, 150V","3D-PF, 100V","3D-PF, 70V"], "range": ["#000000","#f03c3c","#00dd00","#4a4ae0","#ff20ff","#505050","#f06a6a","#40cc40","#3030b0","#d050d0"]}},
  "fill": {"field": "s", "type": "nominal", "title": null, "scale": {"domain": ["250V","200V","150V","100V","70V","3D-PF, 250 V","3D-PF, 200V","3D-PF, 150V","3D-PF, 100V","3D-PF, 70V"], "range": ["#000000","transparent","#00dd00","transparent","#ff20ff","transparent","transparent","transparent","transparent","transparent"]}},
  "shape": {"field": "s", "type": "nominal", "title": null, "scale": {"domain": ["250V","200V","150V","100V","70V","3D-PF, 250 V","3D-PF, 200V","3D-PF, 150V","3D-PF, 100V","3D-PF, 70V"], "range": ["square","square","circle","circle","triangle-up","stroke","stroke","stroke","stroke","stroke"]}},
  "size": {"field": "s", "type": "nominal", "title": null, "scale": {"type": "ordinal", "domain": ["250V","200V","150V","100V","70V","3D-PF, 250 V","3D-PF, 200V","3D-PF, 150V","3D-PF, 100V","3D-PF, 70V"], "range": [16,18,22,22,26,400,400,400,400,400]}}
 }},
{"data": {"name": "sim"}, "mark": {"type": "line", "strokeWidth": 1, "interpolate": "monotone"},
 "encoding": {"stroke": {"field": "s", "type": "nominal", "title": null}}},
{"data": {"name": "shadow"}, "mark": {"type": "rect", "fill": "#000"},
 "encoding": {"x2": {"field": "T2"}, "y2": {"field": "v2"}}},
{"data": {"name": "fbox"}, "mark": {"type": "rect", "fill": "white", "stroke": "#222", "strokeWidth": 1.2},
 "encoding": {"x2": {"field": "T2"}, "y2": {"field": "v2"}}},
{"data": {"name": "ftxt"}, "mark": {"type": "text", "fontSize": 17, "align": "center", "baseline": "middle", "color": "#000"},
 "encoding": {"text": {"field": "t"}}},
{"data": {"name": "bd"}, "mark": {"type": "text", "fontSize": 18, "align": "left", "baseline": "middle", "color": "#000"},
 "encoding": {"text": {"field": "t"}}},
{"data": {"name": "bdsub"}, "mark": {"type": "text", "fontSize": 13, "align": "left", "baseline": "middle", "color": "#000"},
 "encoding": {"text": {"field": "t"}}},
{"data": {"name": "bdsup"}, "mark": {"type": "text", "fontSize": 12, "align": "left", "baseline": "middle", "color": "#000"},
 "encoding": {"text": {"field": "t"}}},
{"data": {"name": "dt"}, "mark": {"type": "text", "fontSize": 15, "align": "center", "baseline": "middle", "color": "#000"},
 "encoding": {"text": {"field": "t"}}},
{"data": {"name": "hname"}, "mark": {"type": "text", "fontSize": 16, "fontStyle": "italic", "align": "left", "baseline": "middle", "color": "#3434e8"},
 "encoding": {"text": {"field": "t"}}},
{"data": {"name": "hsup"}, "mark": {"type": "text", "fontSize": 12, "fontStyle": "italic", "align": "left", "baseline": "middle", "color": "#3434e8"},
 "encoding": {"text": {"field": "t"}}},
{"data": {"name": "arrk"}, "mark": {"type": "rule", "color": "#000", "strokeWidth": 2},
 "encoding": {"x2": {"field": "T2"}}},
{"data": {"name": "arrkh"}, "mark": {"type": "point", "shape": "triangle-left", "filled": true, "color": "#000", "size": 40, "opacity": 1}},
{"data": {"name": "arrb"}, "mark": {"type": "rule", "color": "#3434e8", "strokeWidth": 2},
 "encoding": {"x2": {"field": "T2"}}},
{"data": {"name": "arrbh"}, "mark": {"type": "point", "shape": "triangle-left", "filled": true, "color": "#3434e8", "size": 40, "opacity": 1}}
],
"config": {
 "font": "Liberation Sans",
 "view": {"stroke": "#222", "strokeWidth": 1.5},
 "axis": {"grid": false, "labelFontSize": 18, "labelColor": "#000", "titleColor": "#000", "titleFontWeight": "normal", "tickColor": "#000", "domainColor": "#222", "domainWidth": 1.5, "tickWidth": 1.5, "labelOverlap": false, "labelFont": "Liberation Sans", "titleFont": "Liberation Sans"},
 "legend": {"orient": "top-left", "offset": 6, "padding": 8, "strokeColor": "#333", "fillColor": "white", "labelFontSize": 15, "labelColor": "#000", "rowPadding": 2, "symbolStrokeWidth": 1.2, "labelOffset": 6}
}
}
